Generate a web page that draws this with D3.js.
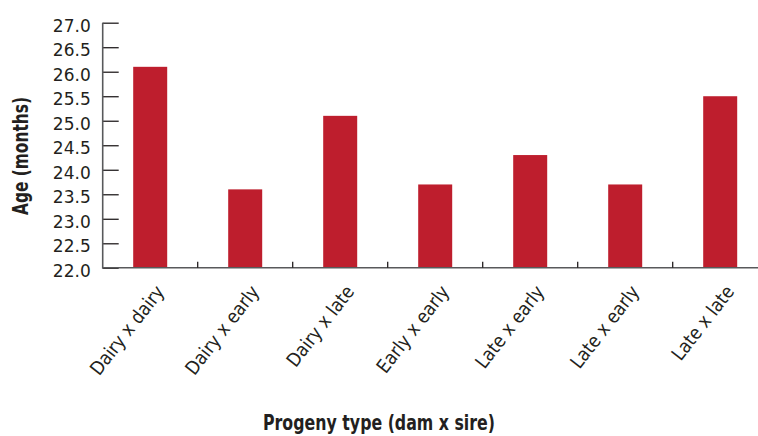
<!DOCTYPE html>
<html><head><meta charset="utf-8">
<script src="https://cdn.jsdelivr.net/npm/d3@7"></script>
<style>
html,body{margin:0;padding:0;background:#fff;}
svg{display:block;}
</style>
</head><body>
<svg id="chart" width="758" height="436"></svg>
<script>
const categories = ["Dairy x dairy","Dairy x early","Dairy x late","Early x early","Late x early","Late x early","Late x late"];
const values = [26.1, 23.6, 25.1, 23.7, 24.3, 23.7, 25.5];
const yTicks = [22.0,22.5,23.0,23.5,24.0,24.5,25.0,25.5,26.0,26.5,27.0];
const xTitle = "Progeny type (dam x sire)";
const yTitle = "Age (months)";

const svg = d3.select("#chart");
const x0 = 102.7, step = 95;
const x = d3.scaleBand().domain(categories.map((c,i)=>i)).range([x0, x0 + step*categories.length]).padding(0);
const y = d3.scaleLinear().domain([22,27]).range([267.8, 22.7]);
const barW = 34;
const tickFont = "'DejaVu Sans', sans-serif";
const titleFont = "'DejaVu Sans Condensed', 'DejaVu Sans', sans-serif";

// bars
svg.append("g").selectAll("rect").data(values).join("rect")
  .attr("x", (d,i)=> x(i) + (x.bandwidth()-barW)/2)
  .attr("y", d=> y(d))
  .attr("width", barW)
  .attr("height", d=> y(22) - y(d))
  .attr("fill", "#be1e2d");

// y axis
const yAxis = d3.axisLeft(y).tickValues(yTicks).tickFormat(d3.format(".1f")).tickSize(-16).tickPadding(12);
const gy = svg.append("g").attr("transform", `translate(${x0},0)`).call(yAxis);
gy.select(".domain").remove();
gy.selectAll(".tick line").attr("stroke", "#231f20").attr("stroke-width", 1.3);
gy.selectAll(".tick text").attr("font-family", tickFont).attr("font-size", 17).attr("fill", "#231f20").attr("dy", "0.5em");
svg.append("line").attr("x1", x0).attr("x2", x0).attr("y1", y(27)).attr("y2", y(22)+0.8)
  .attr("stroke", "#58595b").attr("stroke-width", 1.6);

// x axis line
svg.append("line").attr("x1", x0).attr("x2", 758).attr("y1", y(22)).attr("y2", y(22))
  .attr("stroke", "#58595b").attr("stroke-width", 1.6);
// x ticks at band boundaries
const bounds = categories.map((c,i)=> x(i)).slice(1);
svg.append("g").selectAll("line").data(bounds).join("line")
  .attr("x1", d=>d).attr("x2", d=>d).attr("y1", y(22)).attr("y2", y(22)-6)
  .attr("stroke", "#231f20").attr("stroke-width", 1.3);

// x labels
svg.append("g").selectAll("text").data(categories).join("text")
  .attr("transform", (d,i)=> `translate(${x(i)+x.bandwidth()/2+15},${292}) rotate(-52) scale(0.88,1)`)
  .attr("text-anchor", "end")
  .attr("font-family", tickFont).attr("font-size", 19).attr("fill", "#231f20")
  .text(d=>d);

// titles
svg.append("text").attr("x", 379).attr("y", 429.5).attr("text-anchor", "middle")
  .attr("font-family", titleFont).attr("font-weight", "bold").attr("font-size", 22).attr("fill", "#231f20")
  .attr("textLength", 232).attr("lengthAdjust", "spacingAndGlyphs")
  .text(xTitle);
svg.append("text").attr("transform", "translate(28,156) rotate(-90)").attr("text-anchor", "middle")
  .attr("font-family", titleFont).attr("font-weight", "bold").attr("font-size", 22).attr("fill", "#231f20")
  .attr("textLength", 118).attr("lengthAdjust", "spacingAndGlyphs")
  .text(yTitle);
</script>
</body></html>
